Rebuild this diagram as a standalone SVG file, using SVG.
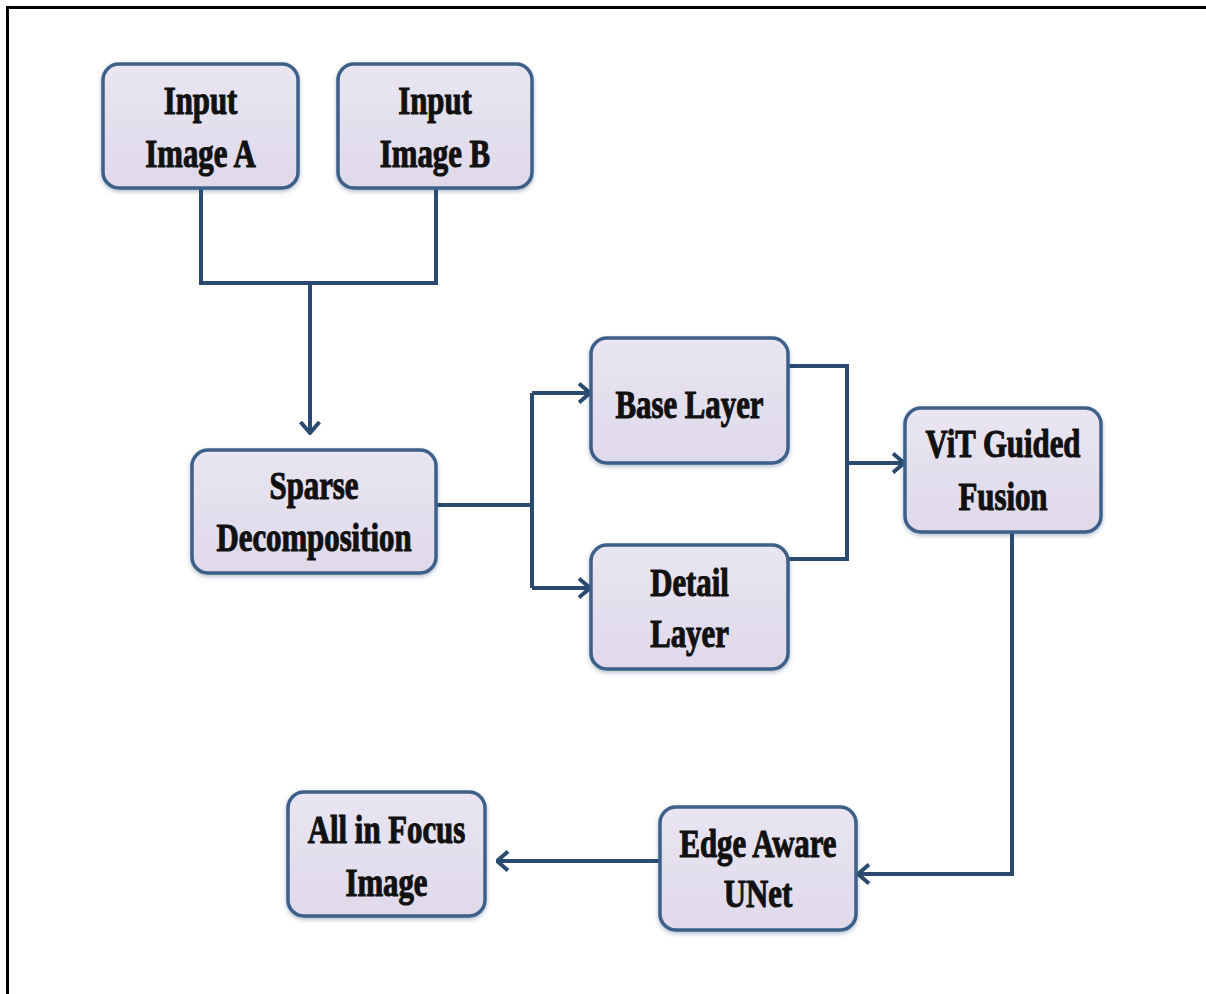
<svg xmlns="http://www.w3.org/2000/svg" width="1206" height="994" viewBox="0 0 1206 994">
  <style>
    .box { fill: url(#boxGrad); stroke: #3e6089; stroke-width: 3.5; filter: url(#shadow); }
    .t { font-family: "Liberation Serif", "Times New Roman", serif; font-weight: bold; font-size: 40px; fill: #111111; stroke: #111111; stroke-width: 1.1; text-anchor: middle; }
    .ln { fill: none; stroke: #2b4a6f; stroke-width: 4; stroke-linejoin: miter; }
    .arr { marker-end: url(#arrow); }
  </style>
  <defs>
    <linearGradient id="boxGrad" x1="0" y1="0" x2="0" y2="1">
      <stop offset="0" stop-color="#e9e5f1"/>
      <stop offset="1" stop-color="#dfd9ea"/>
    </linearGradient>
    <filter id="shadow" x="-10%" y="-10%" width="120%" height="125%">
      <feDropShadow dx="0" dy="2" stdDeviation="2" flood-color="#2b4a6f" flood-opacity="0.35"/>
    </filter>
    <marker id="arrow" markerUnits="userSpaceOnUse" viewBox="0 0 14 22" refX="12.5" refY="11" markerWidth="14" markerHeight="22" orient="auto">
      <path d="M1.5,1.5 L12.5,11 L1.5,20.5" fill="none" stroke="#2b4a6f" stroke-width="4"/>
    </marker>
  </defs>
  <rect width="1206" height="994" fill="#ffffff"/>
  <path d="M7.5,994 V7.5 H1206" fill="none" stroke="#000000" stroke-width="3"/>

  <g id="connectors">
    <path class="ln" d="M201,188 V283 H436 V188"/>
    <path class="ln arr" d="M310,283 V433"/>
    <path class="ln" d="M436,505 H532"/>
    <path class="ln" d="M532,393 V588"/>
    <path class="ln arr" d="M532,393 H590"/>
    <path class="ln arr" d="M532,588 H590"/>
    <path class="ln" d="M788,366 H847 V559 H788"/>
    <path class="ln arr" d="M847,463 H904"/>
    <path class="ln arr" d="M1012,532 V874 H858"/>
    <path class="ln arr" d="M660,861 H497"/>
  </g>

  <g id="input-a">
    <rect class="box" x="103" y="64" width="195" height="124" rx="16"/>
    <text class="t" transform="translate(200.5,114) scale(0.77,1)">Input</text>
    <text class="t" transform="translate(200.5,167) scale(0.77,1)">Image A</text>
  </g>
  <g id="input-b">
    <rect class="box" x="338" y="64" width="194" height="124" rx="16"/>
    <text class="t" transform="translate(435,114) scale(0.77,1)">Input</text>
    <text class="t" transform="translate(435,167) scale(0.77,1)">Image B</text>
  </g>
  <g id="sparse">
    <rect class="box" x="192" y="450" width="244" height="123" rx="16"/>
    <text class="t" transform="translate(314,499) scale(0.77,1)">Sparse</text>
    <text class="t" transform="translate(314,551) scale(0.77,1)">Decomposition</text>
  </g>
  <g id="base">
    <rect class="box" x="591" y="338" width="197" height="125" rx="16"/>
    <text class="t" transform="translate(689.5,418) scale(0.77,1)">Base Layer</text>
  </g>
  <g id="detail">
    <rect class="box" x="591" y="545" width="197" height="124" rx="16"/>
    <text class="t" transform="translate(689.5,596) scale(0.77,1)">Detail</text>
    <text class="t" transform="translate(689.5,647) scale(0.77,1)">Layer</text>
  </g>
  <g id="vit">
    <rect class="box" x="905" y="408" width="196" height="124" rx="16"/>
    <text class="t" transform="translate(1003,457) scale(0.77,1)">ViT Guided</text>
    <text class="t" transform="translate(1003,510) scale(0.77,1)">Fusion</text>
  </g>
  <g id="edge">
    <rect class="box" x="660" y="807" width="196" height="123" rx="16"/>
    <text class="t" transform="translate(758,857) scale(0.77,1)">Edge Aware</text>
    <text class="t" transform="translate(758,907) scale(0.77,1)">UNet</text>
  </g>
  <g id="allfocus">
    <rect class="box" x="288" y="792" width="197" height="124" rx="16"/>
    <text class="t" transform="translate(386.5,843) scale(0.77,1)">All in Focus</text>
    <text class="t" transform="translate(386.5,896) scale(0.77,1)">Image</text>
  </g>
</svg>
